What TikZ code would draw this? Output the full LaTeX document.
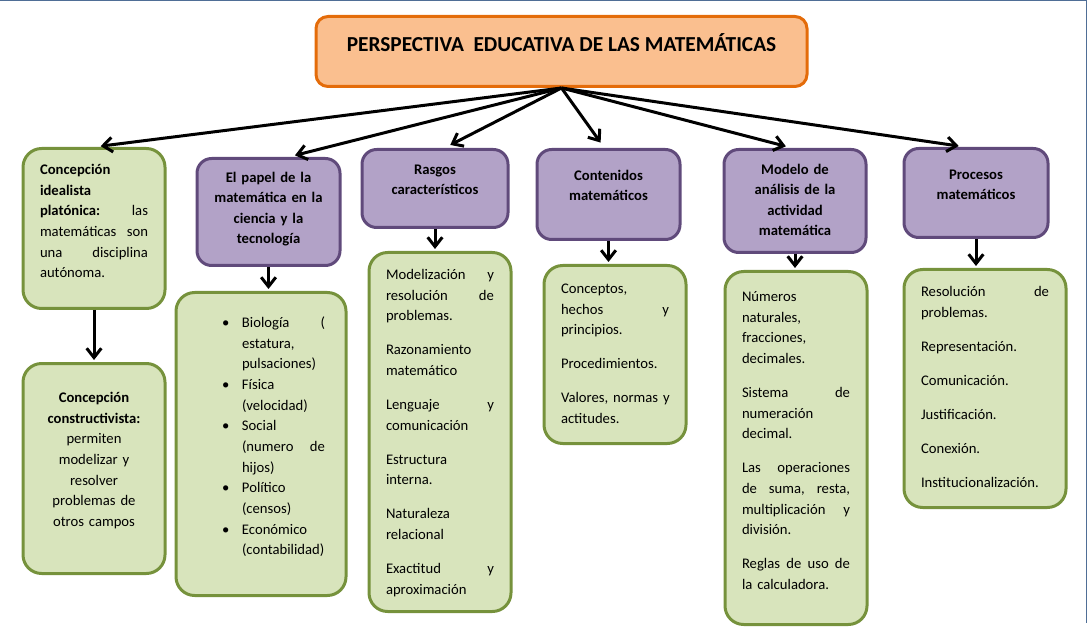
\documentclass[tikz,border=0pt]{standalone}
\usepackage{fontspec}
\setmainfont{Carlito}
\usetikzlibrary{arrows.meta}
\definecolor{orangeline}{RGB}{228,108,10}
\definecolor{orangefill}{RGB}{250,191,143}
\definecolor{purpleline}{RGB}{96,74,123}
\definecolor{purplefill}{RGB}{178,162,199}
\definecolor{greenline}{RGB}{118,146,60}
\definecolor{greenfill}{RGB}{216,228,188}
\definecolor{framecol}{RGB}{79,110,150}
% bullet lines for the list box
\newcommand{\bitem}{\hspace*{18.75pt}\makebox[15pt][l]{\textbullet}}
\newcommand{\bcont}{\hspace*{33.75pt}}

\begin{document}
\begin{tikzpicture}[
    x=0.75pt, y=-0.75pt, >={Straight Barb[length=7pt,width=11pt]},
    tnode/.style={rectangle, rounded corners=9pt, draw=orangeline, fill=orangefill, line width=2.25pt, anchor=north, inner sep=0pt, font=\fontsize{16}{19}\selectfont\bfseries},
    pnode/.style={rectangle, rounded corners=11pt, draw=purpleline, fill=purplefill, line width=2.25pt, anchor=north, inner ysep=0pt, inner xsep=8.25pt, align=center, font=\fontsize{11}{15.2}\selectfont\bfseries},
    gnode/.style={rectangle, rounded corners=14pt, draw=greenline, fill=greenfill, line width=2.25pt, anchor=north, inner ysep=0pt, inner xsep=12.75pt, text width=81pt, align=left, font=\fontsize{11}{15.5}\selectfont},
    conn/.style={->, line width=2.25pt, shorten >=5pt},
  ]
  \useasboundingbox (0,0) rectangle (1089,627);
  \draw[framecol, line width=0.75pt] (0,1) -- (1086,1) -- (1086,623);

  \node[tnode, minimum width=368.25pt, text height=26.25pt, text depth=26.25pt] (title) at (561.5,15) {PERSPECTIVA~ EDUCATIVA DE LAS MATEMÁTICAS};

  % first row
  \node[gnode, text height=19.5pt, text depth=100.5pt] (b1) at (94,147)
    {\textbf{Concepción}\\ \textbf{idealista}\\ \textbf{platónica:}\hfill las\\ matemáticas\hfill son\\ una\hfill disciplina\\ autónoma.};
  \node[pnode, text width=90.75pt, text height=18pt, text depth=62.25pt] (b2) at (268.5,157)
    {El papel de la\\ matemática en la\\ ciencia y la\\ tecnología};
  \node[pnode, text width=93pt, text height=18.75pt, text depth=39.75pt] (b3) at (435,148)
    {Rasgos\\ característicos};
  \node[pnode, text width=90.75pt, text height=23.25pt, text depth=44.25pt] (b4) at (608.5,148)
    {Contenidos\\ matemáticos};
  \node[pnode, text width=90pt, text height=18.75pt, text depth=58.5pt] (b5) at (795,148)
    {Modelo de\\ análisis de la\\ actividad\\ matemática};
  \node[pnode, text width=91.5pt, text height=23.25pt, text depth=43.5pt] (b6) at (976,147)
    {Procesos\\ matemáticos};

  % second row
  \node[gnode, align=center, text height=29.25pt, text depth=128.25pt] (b1b) at (94,362)
    {\textbf{Concepción}\\ \textbf{constructivista:}\\ permiten\\ modelizar y\\ resolver\\ problemas de\\ otros campos};
  \node[gnode, inner xsep=15.75pt, text width=96pt, text height=26.25pt, text depth=201pt] (c2) at (261,291)
    {\bitem Biología\hfill(\\ \bcont estatura,\\ \bcont pulsaciones)\\
     \bitem Física\\ \bcont (velocidad)\\
     \bitem Social\\ \bcont (numero\hfill de\\ \bcont hijos)\\
     \bitem Político\\ \bcont (censos)\\
     \bitem Económico\\ \bcont (contabilidad)};
  \node[gnode, text height=20.25pt, text depth=249pt] (c3) at (440,251)
    {Modelización\hfill y\\ resolución\hfill de\\ problemas.\\[10pt]
     Razonamiento\\ matemático\\[10pt]
     Lenguaje\hfill y\\ comunicación\\[10pt]
     Estructura\\ interna.\\[10pt]
     Naturaleza\\ relacional\\[10pt]
     Exactitud\hfill y\\ aproximación};
  \node[gnode, text height=21pt, text depth=112.5pt] (c4) at (615,264)
    {Conceptos,\\ hechos\hfill y\\ principios.\\[10pt]
     Procedimientos.\\[10pt]
     \makebox[\linewidth][s]{Valores, normas y}\\ actitudes.};
  \node[gnode, text height=22.5pt, text depth=242.25pt] (c5) at (796,270)
    {Números\\ naturales,\\ fracciones,\\ decimales.\\[10pt]
     Sistema\hfill de\\ numeración\\ decimal.\\[10pt]
     Las\hfill operaciones\\ de\hfill suma,\hfill resta,\\ multiplicación\hfill y\\ división.\\[10pt]
     Reglas\hfill de\hfill uso\hfill de\\ la calculadora.};
  \node[gnode, text width=96pt, text height=20.25pt, text depth=158.25pt] (c6) at (985,268)
    {Resolución\hfill de\\ problemas.\\[10pt]
     Representación.\\[10pt]
     Comunicación.\\[10pt]
     Justificación.\\[10pt]
     Conexión.\\[10pt]
     Institucionalización.};

  % connectors
  \draw[conn] (title.south) -- (b1.north);
  \draw[conn] (title.south) -- ([xshift=15pt]b2.north);
  \draw[conn] (title.south) -- ([xshift=7pt]b3.north);
  \draw[conn] (title.south) -- ([xshift=-3pt]b4.north);
  \draw[conn] (title.south) -- ([xshift=-2pt]b5.north);
  \draw[conn] (title.south) -- ([xshift=-8pt]b6.north);
  \draw[conn, shorten >=1.5pt] (b1.south) -- (b1.south |- b1b.north);
  \draw[conn, shorten >=1.5pt] (b2.south) -- (b2.south |- c2.north);
  \draw[conn, shorten >=1.5pt] (b3.south) -- (b3.south |- c3.north);
  \draw[conn, shorten >=1.5pt] (b4.south) -- (b4.south |- c4.north);
  \draw[conn, shorten >=1.5pt] (b5.south) -- (b5.south |- c5.north);
  \draw[conn, shorten >=1.5pt] (b6.south) -- (b6.south |- c6.north);
\end{tikzpicture}
\end{document}
